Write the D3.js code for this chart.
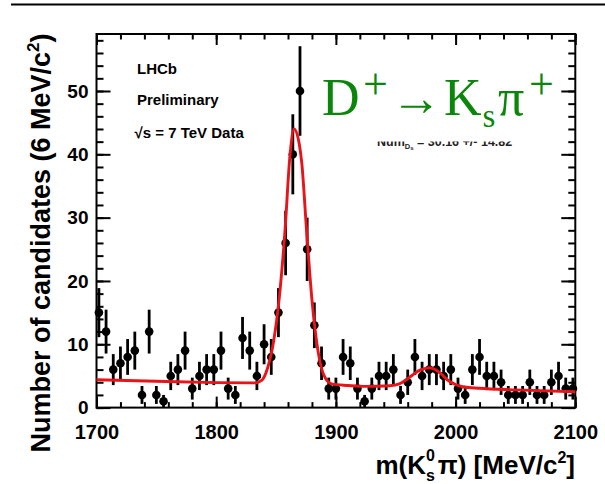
<!DOCTYPE html>
<html>
<head>
<meta charset="utf-8">
<script src="https://cdn.jsdelivr.net/npm/d3@7/dist/d3.min.js"></script>
<style>
  body { margin: 0; background: #fff; }
  svg { display: block; }
  text { font-family: 'Liberation Sans', Arial, sans-serif; font-weight: bold; }
</style>
</head>
<body>
<div id="chart"></div>
<script>
// candidates per 6 MeV bin, first bin 1699-1705
const counts = [
  15, 12, 6, 7, 8, 9, 2, 12, 2, 1, 5, 6, 9, 3, 5, 6, 6, 9, 3, 2,
  11, 9, 5, 10, 8, 15, 26, 40, 50, 25, 13, 7, 3, 3, 8, 7, 3, 1, 3, 5,
  5, 6, 2, 4, 8, 5, 6, 6, 5, 6, 3, 2, 6, 8, 5, 5, 4, 2, 2, 2,
  4, 2, 2, 4, 5, 3, 3
]
const binStart = 1699
const binWidth = 6

// fit curve
const fitMass = [1700, 1750, 1800, 1832, 1838, 1843, 1848, 1852.5, 1857.5, 1861.5, 1865, 1869.5, 1871.5, 1875.5,
  1880, 1885, 1891, 1897, 1910, 1925, 1945, 1953, 1958, 1964, 1969, 1974, 1978.5, 1983, 1987, 1993,
  2000, 2006, 2020, 2050, 2100]
const fitValue = [4.4, 4.15, 3.95, 3.9, 4.3, 6.3, 10.5, 17, 28, 39.5, 44, 41.5, 38.6, 28,
  17, 9, 4.7, 3.7, 3.5, 3.35, 3.45, 3.75, 4.3, 5.15, 5.8, 6.15, 6.3, 6.0, 5.5, 4.4,
  3.65, 3.3, 3.05, 2.8, 2.5]

const xTicks = [1700, 1800, 1900, 2000, 2100]
const yTicks = [0, 10, 20, 30, 40, 50]
const infoLines = ['LHCb', 'Preliminary', '\u221As = 7 TeV Data']

const width = 605
const height = 484
const frame = { left: 96.5, right: 575.3, top: 34, bottom: 407.6 }

const svg = d3.select('#chart').append('svg')
  .attr('width', width)
  .attr('height', height)

// slide header rule
svg.append('line')
  .attr('x1', 11).attr('x2', width)
  .attr('y1', 4.5).attr('y2', 4.5)
  .attr('stroke', '#000').attr('stroke-width', 2.2)

const x = d3.scaleLinear().domain([1700, 2100]).range([frame.left, frame.right])
const y = d3.scaleLinear().domain([0, 59]).range([frame.bottom, frame.top])

const clean = g => {
  g.select('.domain').remove()
  g.selectAll('line').attr('stroke', '#000').attr('stroke-width', 2)
}

const minorX = d3.range(1700, 2101, 20)
const minorY = d3.range(0, 59, 2)

// bottom
svg.append('g').attr('transform', `translate(0,${frame.bottom})`)
  .call(d3.axisBottom(x).tickValues(minorX).tickSize(-5.5).tickFormat(''))
  .call(clean)
svg.append('g').attr('transform', `translate(0,${frame.bottom})`)
  .call(d3.axisBottom(x).tickValues(xTicks).tickSize(-11).tickPadding(17).tickFormat(d3.format('d')))
  .call(clean)
  .call(g => g.selectAll('text').attr('font-size', 20).attr('fill', '#000'))
// top
svg.append('g').attr('transform', `translate(0,${frame.top})`)
  .call(d3.axisTop(x).tickValues(minorX).tickSize(-5.5).tickFormat(''))
  .call(clean)
svg.append('g').attr('transform', `translate(0,${frame.top})`)
  .call(d3.axisTop(x).tickValues(xTicks).tickSize(-11).tickFormat(''))
  .call(clean)
// left
svg.append('g').attr('transform', `translate(${frame.left},0)`)
  .call(d3.axisLeft(y).tickValues(minorY).tickSize(-7).tickFormat(''))
  .call(clean)
svg.append('g').attr('transform', `translate(${frame.left},0)`)
  .call(d3.axisLeft(y).tickValues(yTicks).tickSize(-14).tickPadding(8))
  .call(clean)
  .call(g => g.selectAll('text').attr('font-size', 19).attr('fill', '#000'))
// right
svg.append('g').attr('transform', `translate(${frame.right},0)`)
  .call(d3.axisRight(y).tickValues(minorY).tickSize(-7).tickFormat(''))
  .call(clean)
svg.append('g').attr('transform', `translate(${frame.right},0)`)
  .call(d3.axisRight(y).tickValues(yTicks).tickSize(-14).tickFormat(''))
  .call(clean)

svg.append('rect')
  .attr('x', frame.left).attr('y', frame.top)
  .attr('width', frame.right - frame.left)
  .attr('height', frame.bottom - frame.top)
  .attr('fill', 'none').attr('stroke', '#000').attr('stroke-width', 2)

// data points with poisson errors
const bins = counts.map((n, i) => ({ m: binStart + binWidth * (i + 0.5), n }))

svg.append('g').selectAll('line')
  .data(bins).enter()
  .append('line')
  .attr('x1', d => x(d.m)).attr('x2', d => x(d.m))
  .attr('y1', d => y(d.n - Math.sqrt(d.n)))
  .attr('y2', d => y(d.n + Math.sqrt(d.n)))
  .attr('stroke', '#000').attr('stroke-width', 2.8)

svg.append('g').selectAll('circle')
  .data(bins).enter()
  .append('circle')
  .attr('cx', d => x(d.m))
  .attr('cy', d => y(d.n))
  .attr('r', 4.3)
  .attr('fill', '#000')

const fitLine = d3.line()
  .x((d, i) => x(fitMass[i]))
  .y(d => y(d))
  .curve(d3.curveMonotoneX)

svg.append('path')
  .attr('d', fitLine(fitValue))
  .attr('fill', 'none')
  .attr('stroke', '#e8141a')
  .attr('stroke-width', 2.9)

// labels inside frame
const infoY = [74.3, 105, 138.3]
svg.selectAll('.info')
  .data(infoLines).enter()
  .append('text')
  .attr('class', 'info')
  .attr('x', (d, i) => i === 2 ? 134.5 : 137)
  .attr('y', (d, i) => infoY[i])
  .attr('font-size', 15)
  .text(d => d)

// yield text, half hidden behind the title box
const num = svg.append('text')
  .attr('x', 377).attr('y', 145.5)
  .attr('font-size', 12.5)
  .attr('fill', '#222')
num.append('tspan').text('Num')
num.append('tspan').attr('font-size', 7.5).attr('dy', 3).text('D')
num.append('tspan').attr('font-size', 6).attr('dy', 1.5).text('s')
num.append('tspan').attr('dy', -4.5).text(' = 30.16 +/- 14.82')

svg.append('rect')
  .attr('x', 315).attr('y', 52)
  .attr('width', 245).attr('height', 89.5)
  .attr('fill', '#fff')

const green = '#0a870a'
const title = svg.append('g')
  .attr('fill', green)
const titleParts = [
  { t: 'D', x: 322, y: 115, s: 52 },
  { t: '+', x: 363, y: 99, s: 44 },
  { t: '\u2192', x: 391, y: 115, s: 51 },
  { t: 'K', x: 444, y: 115, s: 52 },
  { t: 's', x: 482.5, y: 126.5, s: 33 },
  { t: '\u03C0', x: 498, y: 115, s: 52 },
  { t: '+', x: 529, y: 99, s: 44 }
]
title.selectAll('text')
  .data(titleParts).enter()
  .append('text')
  .attr('x', d => d.x).attr('y', d => d.y)
  .attr('font-size', d => d.s)
  .style('font-family', "'Liberation Serif', 'Times New Roman', serif")
  .style('font-weight', 'normal')
  .text(d => d.t)

// axis titles
const yTitle = svg.append('text')
  .attr('transform', 'translate(50,243) rotate(-90)')
  .attr('text-anchor', 'middle')
  .attr('font-size', 27)
yTitle.append('tspan').text('Number of candidates (6 MeV/c')
yTitle.append('tspan').attr('font-size', 17).attr('dy', -11).text('2')
yTitle.append('tspan').attr('dy', 11).text(')')

const xTitle = svg.append('text')
  .attr('x', 575).attr('y', 473.5)
  .attr('text-anchor', 'end')
  .attr('font-size', 26)
xTitle.append('tspan').text('m(K')
xTitle.append('tspan').attr('font-size', 16).attr('dy', 7.5).text('s')
xTitle.append('tspan').attr('font-size', 16).attr('dx', -9).attr('dy', -20).text('0')
xTitle.append('tspan').attr('dx', 3).attr('dy', 12.5).text('\u03C0) [MeV/c')
xTitle.append('tspan').attr('font-size', 16).attr('dy', -11).text('2')
xTitle.append('tspan').attr('dy', 11).text(']')
</script>
</body>
</html>
